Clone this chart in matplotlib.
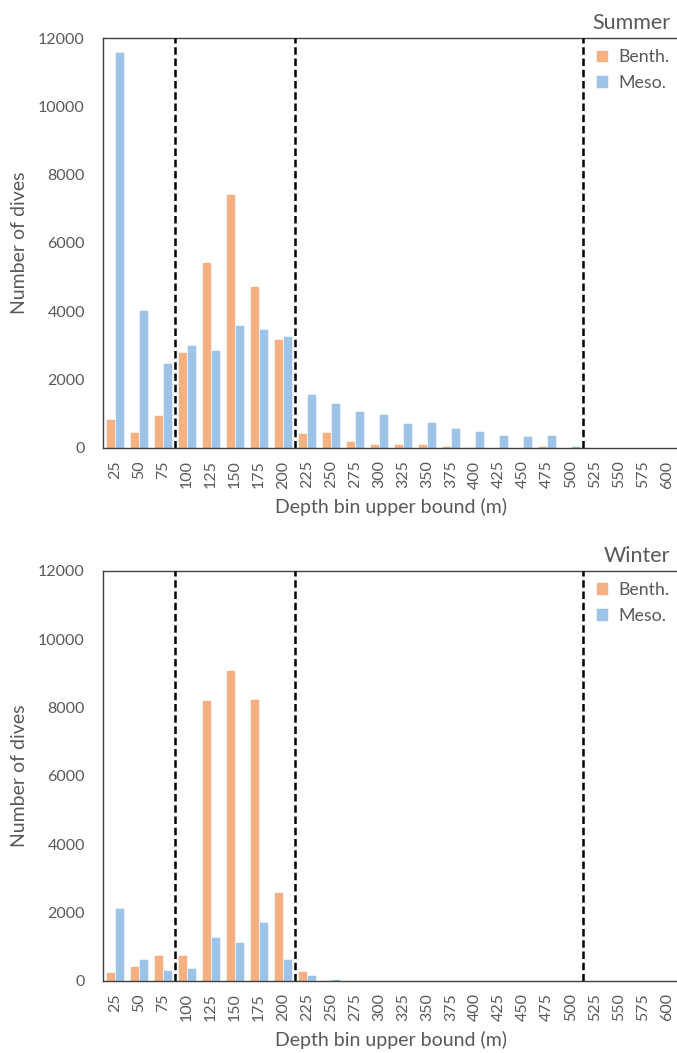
import matplotlib.pyplot as plt
import numpy as np

plt.rcParams['font.family'] = ['Lato', 'DejaVu Sans']

depth_bins = [25, 50, 75, 100, 125, 150, 175, 200, 225, 250, 275, 300,
              325, 350, 375, 400, 425, 450, 475, 500, 525, 550, 575, 600]

summer_benth = [850, 480, 970, 2820, 5440, 7430, 4730, 3190, 450, 480, 200, 130,
                130, 130, 60, 30, 0, 0, 60, 0, 0, 0, 0, 0]
summer_meso = [11600, 4040, 2500, 3020, 2870, 3590, 3470, 3290, 1590, 1330, 1090, 990,
               740, 770, 570, 500, 380, 350, 380, 60, 0, 0, 0, 0]

winter_benth = [250, 430, 740, 740, 8220, 9090, 8250, 2600, 280, 30, 0, 0,
                0, 0, 0, 0, 0, 0, 0, 0, 0, 0, 0, 0]
winter_meso = [2130, 640, 320, 380, 1280, 1140, 1720, 630, 180, 50, 0, 0,
               0, 0, 0, 0, 0, 0, 0, 0, 0, 0, 0, 0]

# dashed lines sit after these bins
zone_bounds = [75, 200, 500]

BENTH = '#F4B183'
MESO = '#9DC3E6'
TXT = '#595959'


def draw_panel(ax, benth, meso, season):
    x = np.arange(len(depth_bins))
    w = 0.39
    ax.bar(x - w / 2, benth, width=w, color=BENTH, edgecolor='white', linewidth=0.4, label='Benth.')
    ax.bar(x + w / 2, meso, width=w, color=MESO, edgecolor='white', linewidth=0.4, label='Meso.')

    for b in zone_bounds:
        ax.axvline(depth_bins.index(b) + 0.5, color='black', linestyle=(0, (3, 1.5)), linewidth=1.8, zorder=5)

    ax.set_xlim(-0.5, len(depth_bins) - 0.5)
    ax.set_ylim(0, 12000)
    ax.set_yticks(np.arange(0, 12001, 2000))
    ax.set_xticks(x)
    ax.set_xticklabels([str(d) for d in depth_bins], rotation=90)
    ax.tick_params(length=0, labelsize=11.5, colors=TXT)
    ax.tick_params(axis='y', pad=13)
    ax.tick_params(axis='x', pad=9)
    ax.set_xlabel('Depth bin upper bound (m)', fontsize=14, color=TXT, labelpad=7)
    ax.set_ylabel('Number of dives', fontsize=14, color=TXT, labelpad=7)

    for s in ['left', 'bottom', 'top']:
        ax.spines[s].set_color('#404040')
        ax.spines[s].set_linewidth(1.0)
    ax.spines['right'].set_visible(False)

    ax.text(0.985, 1.012, season, transform=ax.transAxes, ha='right', va='bottom',
            fontsize=15.5, color=TXT)
    leg = ax.legend(loc='upper right', bbox_to_anchor=(1.012, 1.012), frameon=False,
                    fontsize=12.8, handlelength=0.7, handleheight=0.7, handletextpad=0.6,
                    labelspacing=0.55)
    for t in leg.get_texts():
        t.set_color(TXT)


fig = plt.figure(figsize=(6.77, 10.53), dpi=100)
ax1 = fig.add_axes([0.152, 0.5746, 0.851, 0.3893])
ax2 = fig.add_axes([0.152, 0.0687, 0.851, 0.3893])

draw_panel(ax1, summer_benth, summer_meso, 'Summer')
draw_panel(ax2, winter_benth, winter_meso, 'Winter')

fig.savefig('out.png', dpi=100)
